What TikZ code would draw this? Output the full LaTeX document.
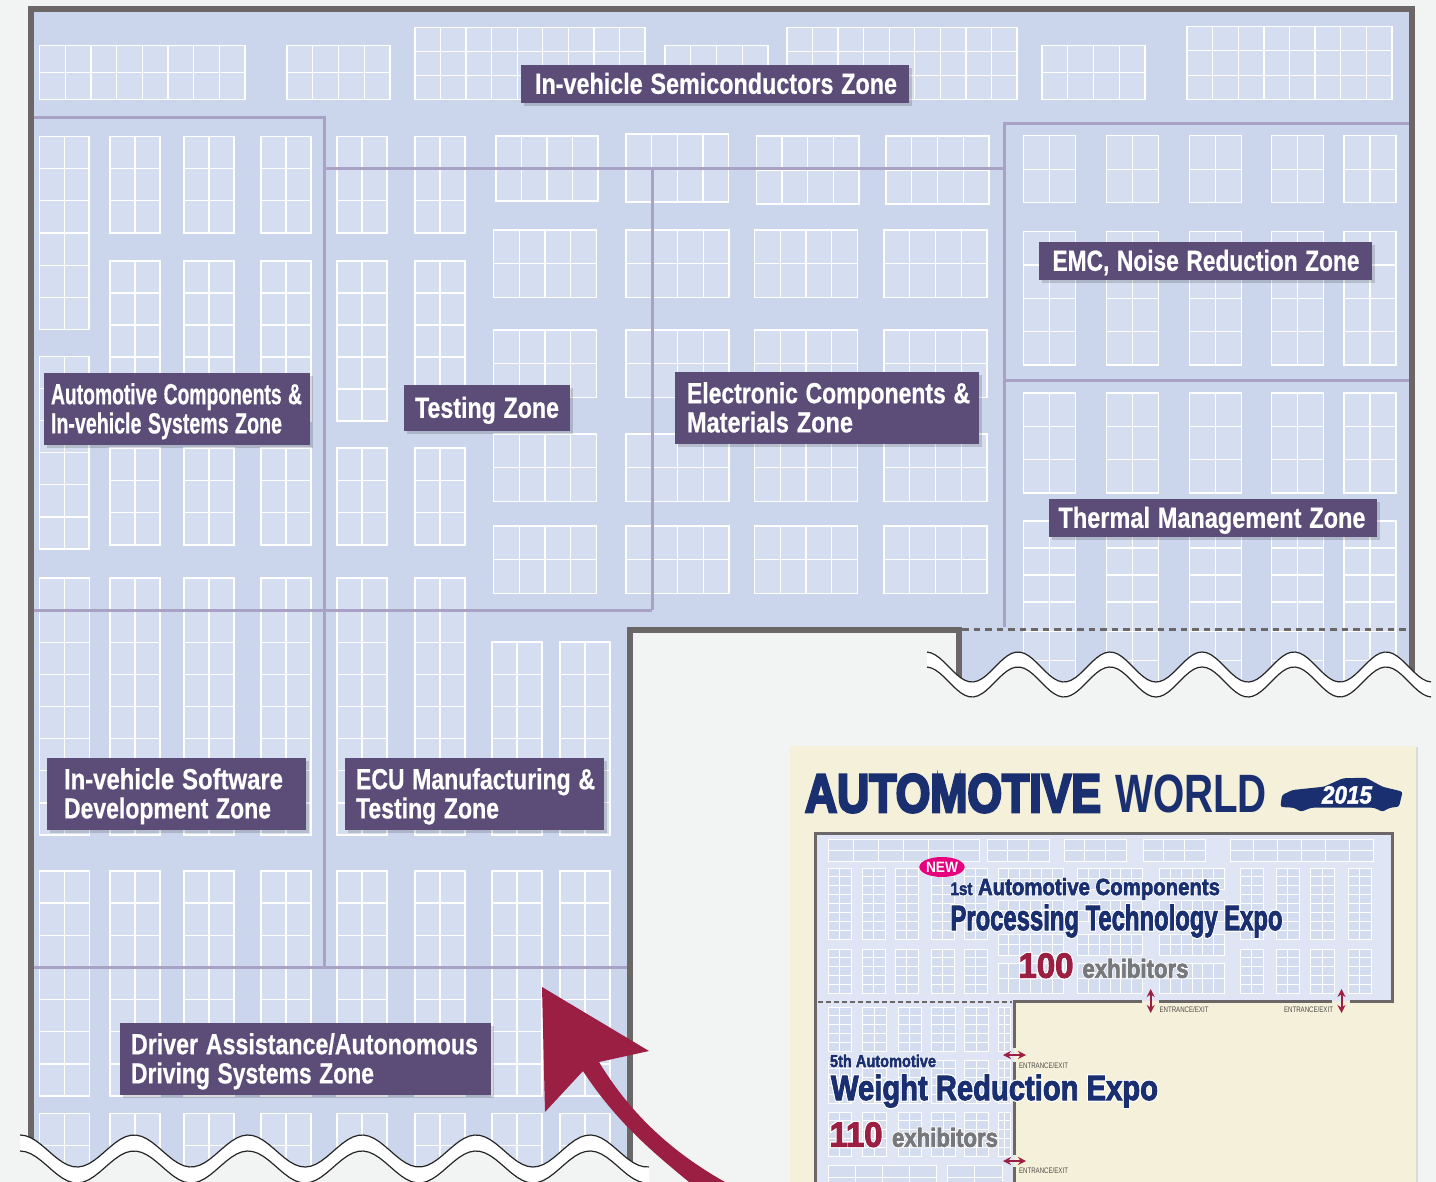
\documentclass[tikz,border=0pt]{standalone}
\usepackage{fontspec}
\usepackage{graphicx}
\setmainfont{Liberation Sans}
\newfontface\tagfont[FakeBold=.7]{Liberation Sans Bold}
\newfontface\heavyfont[FakeBold=3]{Liberation Sans Bold}
\newfontface\titlefont[FakeBold=5]{Liberation Sans Bold}
\newfontface\halofont[FakeBold=10]{Liberation Sans Bold}
\newfontface\yearfont[FakeBold=2]{Liberation Sans Bold Italic}
\usetikzlibrary{shadows,arrows.meta,shapes.geometric}
\definecolor{pagegray}{HTML}{F2F4F3}
\definecolor{hallblue}{HTML}{CBD5EC}
\definecolor{stallblue}{HTML}{D5DDF0}
\definecolor{wallgray}{HTML}{6B6766}
\definecolor{zoneline}{HTML}{A9A2C4}
\definecolor{tagpurple}{HTML}{5B4D78}
\definecolor{crimson}{HTML}{9B1F42}
\definecolor{cardcream}{HTML}{F5F0D9}
\definecolor{minihall}{HTML}{DFE5F4}
\definecolor{ministall}{HTML}{D4DCEF}
\definecolor{navy}{HTML}{1A2F70}
\definecolor{newpink}{HTML}{E6007E}
\definecolor{countgray}{HTML}{77787B}
\newdimen\pxunit
\pxunit=.5pt
\newcommand{\fitline}[2]{\resizebox{#1\pxunit}{\height}{#2}}
\newcommand{\tagline}[2]{\raisebox{-.9pt}[.75em][.2em]{\fitline{#1}{#2}}}
\newcommand{\halo}[1]{\rlap{\color{white}\halofont #1}#1}
\tikzset{
   stall/.style={draw=white,fill=stallblue,line width=.65pt},
   mini stall/.style={draw=white,fill=ministall,line width=.45pt},
   zone wall/.style={draw=zoneline,line width=1.5pt},
   hall wall/.style={draw=wallgray,line width=3pt,line join=miter},
   mini wall/.style={draw=wallgray,line width=1.5pt,line join=miter},
   torn line/.style={draw=black!85,line width=.6pt},
   zonetag/.style={fill=tagpurple,text=white,font=\fontsize{14.5}{14.6}\tagfont,
      align=left,anchor=north west,inner ysep=0pt,outer sep=0pt,
      drop shadow={shadow xshift=1.5pt,shadow yshift=-1.5pt,fill=black,opacity=.15}},
   plain text/.style={anchor=base west,inner sep=0pt,outer sep=0pt},
   door text/.style={plain text,text=black!70,font=\fontsize{4}{4}\selectfont},
   door arrow/.style={crimson,line width=1pt,{Stealth[length=4pt,width=4pt]}-{Stealth[length=4pt,width=4pt]}}
}
% x0 y0 x1 y1 cols rows
\newcommand{\stalls}[7][stall]{
   \draw[#1] (#2,#3) rectangle (#4,#5);
   \foreach \i in {1,...,#6} \draw[#1] ({#2+\i*(#4-(#2))/#6},#3) -- ({#2+\i*(#4-(#2))/#6},#5);
   \foreach \i in {1,...,#7} \draw[#1] (#2,{#3+\i*(#5-#3)/#7}) -- (#4,{#3+\i*(#5-#3)/#7});
}
% name x0 y0 x1 y1 pad text
\newcommand{\zonetag}[7]{
   \pgfmathsetlengthmacro{\tagwidth}{(#4-#2-2*#6)*.5pt}
   \pgfmathsetlengthmacro{\tagheight}{(#5-#3)*.5pt}
   \pgfmathsetlengthmacro{\tagpad}{#6*.5pt}
   \node[zonetag,inner xsep=\tagpad,text width=\tagwidth,minimum height=\tagheight] (#1) at (#2,#3) {#7};
}
% x0 x1 peak period mid amp
\newcommand{\tornedge}[6]{
   \fill[pagegray] plot[domain=#1:#2,samples=120] (\x,{#5+#6-(#6)*cos(360/#4*(\x-#3))}) -- (#2,1190) -- (#1,1190) -- cycle;
   \fill[white] plot[domain=#1:#2,samples=120] (\x,{#5-(#6)*cos(360/#4*(\x-#3))})
      -- plot[domain=#2:#1,samples=120] (\x,{#5+#6-(#6)*cos(360/#4*(\x-#3))}) -- cycle;
   \draw[torn line] plot[domain=#1:#2,samples=120] (\x,{#5-(#6)*cos(360/#4*(\x-#3))});
   \draw[torn line] plot[domain=#1:#2,samples=120] (\x,{#5+#6-(#6)*cos(360/#4*(\x-#3))});
}
\begin{document}
\begin{tikzpicture}[x=.5pt,y=-.5pt]
  \useasboundingbox (0,0) rectangle (1436,1182);
  \fill[pagegray] (0,0) rectangle (1436,1182);
  \fill[hallblue] (30.5,9.5) -- (1412,9.5) -- (1412,700) -- (959,700) -- (959,629.5) -- (630,629.5) -- (630,1182) -- (30.5,1182) -- cycle;
  % top row
  \stalls{39.5}{45.5}{245}{99.5}{8}{2}
  \stalls{287}{45.5}{390}{99.5}{4}{2}
  \stalls{415}{27.5}{645}{99.5}{9}{3}
  \stalls{665}{45.5}{768}{99.5}{4}{2}
  \stalls{787}{27.5}{1017}{99.5}{9}{3}
  \stalls{1042}{45.5}{1145}{99.5}{4}{2}
  \stalls{1187}{26.5}{1392}{99.5}{8}{3}
  % left columns
  \stalls{39.5}{136.5}{89}{329.5}{2}{6}
  \stalls{39.5}{356.5}{89}{549}{2}{6}
  \foreach \colx in {110,184,261,337,415} {
    \stalls{\colx}{136.5}{\colx+50}{233}{2}{3}
    \stalls{\colx}{261}{\colx+50}{421}{2}{5}
    \stalls{\colx}{448}{\colx+50}{545}{2}{3}
  }
  \foreach \colx in {39.5,110,184,261,337,415} {
    \stalls{\colx}{578}{\colx+50}{835}{2}{8}
  }
  \foreach \colx in {492,560} {
    \stalls{\colx}{642}{\colx+50}{835}{2}{6}
  }
  \foreach \colx in {39.5,110,184,261,337,415,492,560} {
    \stalls{\colx}{871}{\colx+50}{1096}{2}{7}
    \stalls{\colx}{1113.5}{\colx+50}{1178}{2}{2}
  }
  % centre blocks
  \stalls{496}{136}{598}{201}{4}{2}
  \stalls{626}{134}{728.5}{202}{4}{2}
  \stalls{756.5}{136}{859}{204}{4}{2}
  \stalls{886}{136}{989}{204}{4}{2}
  \foreach \colx/\coly in {493.5/230,626/230,754.5/230,884/230,493.5/330,626/330,754.5/330,884/330,
      493.5/434,626/434,754.5/434,884/434,493.5/526,626/526,754.5/526,884/526} {
    \stalls{\colx}{\coly}{\colx+103}{\coly+67.5}{4}{2}
  }
  % right blocks
  \foreach \colx in {1023.7,1106.7,1189.3,1271.7,1344} {
    \stalls{\colx}{135.7}{\colx+52}{202.7}{2}{2}
    \stalls{\colx}{231.7}{\colx+52}{365}{2}{4}
    \stalls{\colx}{393}{\colx+52}{493}{2}{3}
    \stalls{\colx}{521}{\colx+52}{602}{2}{3}
    \stalls{\colx}{602}{\colx+52}{690}{2}{3}
  }
  % zone borders
  \draw[zone wall] (30.5,117.5) -- (324,117.5) -- (324,967);
  \draw[zone wall] (324,169) -- (1004,169);
  \draw[zone wall] (652,169) -- (652,610);
  \draw[zone wall] (30.5,610) -- (652,610);
  \draw[zone wall] (1412,123.5) -- (1004,123.5) -- (1004,627);
  \draw[zone wall] (1004,381) -- (1412,381);
  \draw[zone wall] (30.5,967.5) -- (630,967.5);
  % hall walls
  \draw[hall wall] (30.5,1182) -- (30.5,9.5) -- (1412,9.5) -- (1412,700);
  \draw[hall wall] (630,1182) -- (630,629.5) -- (959,629.5) -- (959,700);
  \draw[wallgray,line width=1.6pt,dash pattern=on 3.4pt off 2.35pt] (962,629.5) -- (1408,629.5);
  \tornedge{927}{1431}{1018}{92}{667}{15}
  \tornedge{20}{649}{134}{114}{1151}{16}
  % zone tags
  \zonetag{semiTag}{521}{65}{909}{103}{14}{\tagline{362}{In-vehicle Semiconductors Zone}}
  \zonetag{autoTag}{44}{373}{310}{445}{7}{\tagline{251}{Automotive Components \&}\\\tagline{231}{In-vehicle Systems Zone}}
  \zonetag{testTag}{404}{385}{570}{431}{11}{\tagline{144}{Testing Zone}}
  \zonetag{elecTag}{675}{372}{979}{444}{12}{\tagline{283}{Electronic Components \&}\\\tagline{166}{Materials Zone}}
  \zonetag{emcTag}{1039}{242}{1372}{280}{13.5}{\tagline{307}{EMC, Noise Reduction Zone}}
  \zonetag{thermTag}{1049}{499}{1377}{537}{9.5}{\tagline{307}{Thermal Management Zone}}
  \zonetag{softTag}{47}{758}{306}{830}{17}{\tagline{219}{In-vehicle Software}\\\tagline{207}{Development Zone}}
  \zonetag{ecuTag}{345}{758}{604}{830}{11}{\tagline{239}{ECU Manufacturing \&}\\\tagline{143}{Testing Zone}}
  \zonetag{drivTag}{120}{1023}{491}{1095}{11}{\tagline{347}{Driver Assistance/Autonomous}\\\tagline{243}{Driving Systems Zone}}
  % big arrow
  \fill[crimson] (542,987) -- (649,1051) -- (599,1062) .. controls (628,1110) and (668,1150) .. (725,1182)
     -- (689,1182) .. controls (650,1150) and (615,1120) .. (583,1071) -- (545,1112) -- cycle;
  % expo card
  \fill[cardcream,drop shadow={shadow xshift=1pt,shadow yshift=-.5pt,fill=black,opacity=.1}] (790,746) rectangle (1416,1195);
  \node[plain text,text=navy,font=\fontsize{27}{27}\titlefont] (autoWord) at (805,812) {\fitline{296}{AUTOMOTIVE}};
  \node[plain text,text=navy,font=\fontsize{27}{27}\selectfont\bfseries] (worldWord) at (1115,812) {\fitline{152}{WORLD}};
  \fill[navy,rounded corners=1.2pt] (1280.4,807) -- (1282,795) -- (1292.6,790) -- (1324,786.7) -- (1342.8,778.3) -- (1365.8,777.7)
     -- (1382.5,786.7) -- (1402.6,791.7) -- (1399,806.7) -- (1390,807.7) -- (1382.5,811.7) -- (1374,807.7)
     -- (1311.4,807.7) -- (1301,811.7) -- (1293.8,807.7) -- cycle;
  \node[plain text,text=white,font=\fontsize{12.5}{12.5}\yearfont] (yearText) at (1322,803.5) {\fitline{50}{2015}};
  % small hall
  \fill[minihall] (815,833.5) -- (1392,833.5) -- (1392,1001) -- (1014,1001) -- (1014,1190) -- (815,1190) -- cycle;
  \stalls[mini stall]{828}{839.5}{979}{861.5}{6}{2}
  \stalls[mini stall]{987}{839.5}{1049.5}{861.5}{3}{2}
  \stalls[mini stall]{1064}{839.5}{1126}{861.5}{3}{2}
  \stalls[mini stall]{1143}{839.5}{1205}{861.5}{3}{2}
  \stalls[mini stall]{1230}{839.5}{1373}{861.5}{6}{2}
  \foreach \colx in {828,862,895,931,964,1240,1276,1310.5,1348} {
    \stalls[mini stall]{\colx}{868}{\colx+23.5}{939}{2}{8}
    \stalls[mini stall]{\colx}{949}{\colx+23.5}{993}{2}{5}
  }
  \foreach \colx in {998,1077.5,1159.5} {
    \stalls[mini stall]{\colx}{868}{\colx+65}{889}{6}{2}
    \stalls[mini stall]{\colx}{900}{\colx+65}{921}{6}{2}
    \stalls[mini stall]{\colx}{934}{\colx+65}{955}{6}{2}
    \stalls[mini stall]{\colx}{963}{\colx+65}{993}{6}{2}
  }
  \foreach \colx/\colw in {828/23.5,862.5/23.5,898/23.5,931.5/23.5,964.5/23.5,998/12.5} {
    \stalls[mini stall]{\colx}{1007}{\colx+\colw}{1051}{2}{5}
    \stalls[mini stall]{\colx}{1060}{\colx+\colw}{1103}{2}{5}
    \stalls[mini stall]{\colx}{1112}{\colx+\colw}{1156}{2}{5}
  }
  \stalls[mini stall]{828}{1165}{936}{1190}{4}{2}
  \stalls[mini stall]{947}{1165}{1002}{1190}{2}{2}
  \draw[wallgray,line width=.9pt,dash pattern=on 2.5pt off 1.5pt] (818,1002) -- (1012,1002);
  \draw[mini wall] (815,1190) -- (815,833.5) -- (1392,833.5) -- (1392,1001) -- (1350,1001);
  \draw[mini wall] (1332,1001) -- (1159,1001);
  \draw[mini wall] (1142,1001) -- (1014,1001) -- (1014,1048);
  \draw[mini wall] (1014,1062) -- (1014,1155);
  \draw[mini wall] (1014,1167) -- (1014,1190);
  % expo texts
  \node[fill=newpink,ellipse,minimum width=22pt,minimum height=10pt,inner sep=0pt,text=white,font=\fontsize{7.5}{7.5}\selectfont\bfseries] (newBadge) at (942,867) {\fitline{32}{NEW}};
  \node[plain text,text=navy,font=\fontsize{11.7}{11.7}\heavyfont] (procTop) at (950.5,895) {\fitline{22}{\fontsize{9}{9}\selectfont\halo{1st}}\hspace{2.75pt}\fitline{242}{\halo{Automotive Components}}};
  \node[plain text,text=navy,font=\fontsize{17.5}{17.5}\heavyfont] (procExpo) at (950.5,930) {\fitline{332}{\halo{Processing Technology Expo}}};
  \node[plain text,text=crimson,font=\fontsize{17.5}{17.5}\heavyfont] (procCount) at (1018.5,977.7) {\fitline{55}{\halo{100}}};
  \node[plain text,text=countgray,font=\fontsize{13}{13}\heavyfont] (procExh) at (1082.5,977.7) {\fitline{106}{\halo{exhibitors}}};
  \node[plain text,text=navy,font=\fontsize{8.6}{8.6}\heavyfont] (weightTop) at (830,1067) {\fitline{106}{\halo{5th Automotive}}};
  \node[plain text,text=navy,font=\fontsize{17.5}{17.5}\heavyfont] (weightExpo) at (831,1100) {\fitline{327}{\halo{Weight Reduction Expo}}};
  \node[plain text,text=crimson,font=\fontsize{17.5}{17.5}\heavyfont] (weightCount) at (829.5,1146.7) {\fitline{53}{\halo{110}}};
  \node[plain text,text=countgray,font=\fontsize{13}{13}\heavyfont] (weightExh) at (892,1146.7) {\fitline{106}{\halo{exhibitors}}};
  % doors
  \draw[door arrow] (1150.7,989) -- (1150.7,1013);
  \draw[door arrow] (1341.5,989) -- (1341.5,1013);
  \draw[door arrow] (1003,1055) -- (1026,1055);
  \draw[door arrow] (1003,1161) -- (1026,1161);
  \node[door text] (doorA) at (1159.5,1012) {\fitline{49}{ENTRANCE/EXIT}};
  \node[door text] (doorB) at (1284,1012) {\fitline{49}{ENTRANCE/EXIT}};
  \node[door text] (doorC) at (1019,1068) {\fitline{49}{ENTRANCE/EXIT}};
  \node[door text] (doorD) at (1019,1173) {\fitline{49}{ENTRANCE/EXIT}};
\end{tikzpicture}
\end{document}
